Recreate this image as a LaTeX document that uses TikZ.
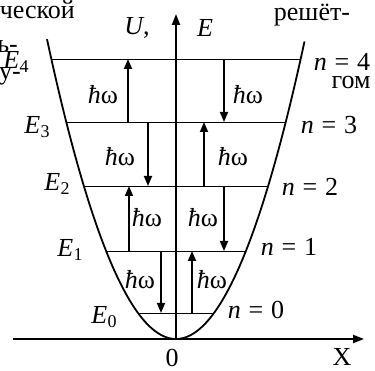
\documentclass[tikz,border=0pt]{standalone}
\usepackage{fontspec}
\setmainfont{Liberation Serif}
\usetikzlibrary{arrows.meta}
\newcommand{\hw}{{\itshape ħ}ω}
\newcommand{\En}[1]{\textit{E}\kern0.5pt\raisebox{-0.35ex}{\fontsize{18}{18}\selectfont #1}}
\newcommand{\nn}[1]{\textit{n}\hspace{0.3em}=\hspace{0.3em}#1}
\begin{document}
\begin{tikzpicture}[x=1pt,y=-1pt,
  font=\fontsize{26}{28}\selectfont,
  axisline/.style={line width=2pt,-{Triangle[length=11pt,width=8pt]}},
  levelline/.style={line width=0.9pt},
  curve/.style={line width=1.8pt},
  trans/.style={line width=1.7pt,-{Triangle[length=10pt,width=8pt]}},
  lbl/.style={inner sep=0pt}]
\useasboundingbox (0,0) rectangle (375,371);
% axes
\coordinate (O) at (176,339);
\coordinate (Xs) at (13,339);
\coordinate (Xe) at (364,339);
\coordinate (Ye) at (176,14);
\draw[axisline] (Xs) -- (Xe);
\draw[axisline] (O) -- (Ye);
% parabola
\draw[curve] plot[domain=-129:128.5,samples=80,smooth] ({176+\x},{339-(\x/7.45)^2});
% levels
\coordinate (L0) at (138,313); \coordinate (R0) at (214,313);
\coordinate (L1) at (106,251); \coordinate (R1) at (246,251);
\coordinate (L2) at (84,186);  \coordinate (R2) at (268,186);
\coordinate (L3) at (66,122);  \coordinate (R3) at (286,122);
\coordinate (L4) at (51,59);   \coordinate (R4) at (301,59);
\foreach \i in {0,...,4} \draw[levelline] (L\i) -- (R\i);
% transitions
\coordinate (a34u) at (128,122); \coordinate (a34d) at (224,59);
\coordinate (a23d) at (148,122); \coordinate (a23u) at (204,186);
\coordinate (a12u) at (129,251); \coordinate (a12d) at (224,186);
\coordinate (a01d) at (161,251); \coordinate (a01u) at (192,313);
\draw[trans] (a34u) -- (a34u |- L4);
\draw[trans] (a34d) -- (a34d |- L3);
\draw[trans] (a23d) -- (a23d |- L2);
\draw[trans] (a23u) -- (a23u |- L3);
\draw[trans] (a12u) -- (a12u |- L2);
\draw[trans] (a12d) -- (a12d |- L1);
\draw[trans] (a01d) -- (a01d |- L0);
\draw[trans] (a01u) -- (a01u |- L1);
% hbar omega labels
\node[lbl] (h1) at (103,95) {\hw};
\node[lbl] (h2) at (248,95) {\hw};
\node[lbl] (h3) at (120,157) {\hw};
\node[lbl] (h4) at (233,157) {\hw};
\node[lbl] (h5) at (147,218) {\hw};
\node[lbl] (h6) at (203,218) {\hw};
\node[lbl] (h7) at (140,280) {\hw};
\node[lbl] (h8) at (212,280) {\hw};
% energy labels
\node[lbl] (E4) at (16,62) {\En{4}};
\node[lbl] (E3) at (37,127) {\En{3}};
\node[lbl] (E2) at (57,184) {\En{2}};
\node[lbl] (E1) at (70,250) {\En{1}};
\node[lbl] (E0) at (104,317) {\En{0}};
% n labels
\node[lbl] (n4) at (342,62) {\nn{4}};
\node[lbl] (n3) at (329,125) {\nn{3}};
\node[lbl] (n2) at (310,187) {\nn{2}};
\node[lbl] (n1) at (289,247) {\nn{1}};
\node[lbl] (n0) at (256,310) {\nn{0}};
% axis labels
\node[lbl] (U) at (137,28) {\textit{U},};
\node[lbl] (E) at (205,28) {\textit{E}};
\node[lbl] (zero) at (172,358) {0};
\node[lbl] (X) at (342,357) {X};
% cut-off surrounding text
\node[lbl,anchor=east] (t1) at (75,10) {ческой};
\node[lbl] (t2) at (312,15) {решёт-};
\node[lbl,anchor=east] (t3) at (18,47) {ь-};
\node[lbl,anchor=east] (t4) at (21,76) {у-};
\node[lbl] (t5) at (351,83) {гом};
\end{tikzpicture}
\end{document}
